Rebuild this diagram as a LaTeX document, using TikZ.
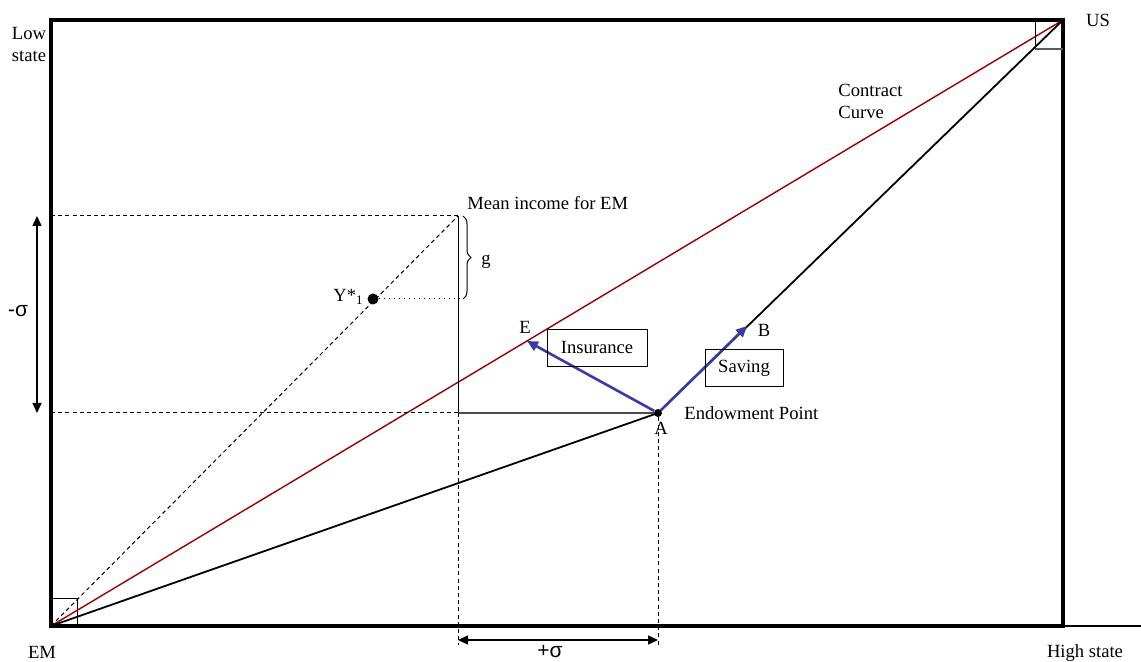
\documentclass[tikz,border=0pt]{standalone}
\usepackage{fontspec}
\setmainfont{Liberation Serif}
\newfontfamily\sigfont{Liberation Sans}
\usetikzlibrary{arrows.meta,decorations.pathreplacing}
\definecolor{ccRed}{HTML}{990000}
\definecolor{moveBlue}{HTML}{3A3AA6}
\begin{document}
\begin{tikzpicture}[x=0.5pt,y=-0.5pt,
  font=\fontsize{9.3}{11}\selectfont,
  frame/.style={line width=1.6pt},
  lnk/.style={line width=0.9pt, draw=black},
  guide/.style={line width=0.5pt, dash pattern=on 2pt off 1.6pt},
  dot/.style={circle, fill=black, inner sep=0pt, minimum size=#1},
  move/.style={-{Triangle[length=5.5pt,width=5pt]}, line width=1.3pt, draw=moveBlue},
  span/.style={{Triangle[length=5pt,width=4.5pt]}-{Triangle[length=5pt,width=4.5pt]}, line width=0.7pt},
  labelbox/.style={draw, line width=0.5pt, inner sep=2pt, minimum height=18.5pt},
  lbl/.style={inner sep=1pt}
]
\useasboundingbox (0,0) rectangle (1141,662);

% corners and points
\coordinate (EM) at (51,626);
\coordinate (US) at (1063,20);
\coordinate (HS) at (1141,626);
\coordinate (M)  at (458,216);
\coordinate (E)  at (527,341);
\coordinate (B)  at (747,326);
\node[dot=4pt] (A) at (658,413) {};
\node[dot=5.5pt] (Y) at (373,299) {};

% edgeworth box
\draw[frame] (EM) rectangle (US);
\draw[line width=1pt] (US |- EM) -- (HS);
\draw[line width=0.5pt] (EM) rectangle (77,598);
\draw[line width=0.5pt] (1035,20) -- (1035,49);
\draw[line width=0.7pt, black!65] (1035,49) -- (1063,49);

% contract curve and offer lines
\draw[line width=0.7pt, ccRed] (EM) -- (US);
\draw[lnk] (EM) -- (A.center) -- (US);
\draw[guide] (EM) -- (M);

% guides for mean income and endowment
\draw[guide] (EM |- M) -- (M);
\draw[guide] (EM |- A) -- (A);
\draw[line width=0.5pt] (M) -- (M |- A);
\draw[line width=0.6pt, black!70] (M |- A) -- (A);
\draw[dotted, line width=0.5pt] (Y) -- (463,299);
\coordinate (pL) at (458,645);
\coordinate (pR) at (658,645);
\draw[guide] (M |- A) -- (pL);
\draw[guide] (A) -- (pR);
\draw[decorate, decoration={brace, amplitude=4pt}, line width=0.5pt] (463,216) -- (463,299);

% sigma spans
\coordinate (sT) at (37,216);
\coordinate (sB) at (37,413);
\draw[span] (sT) -- (sB);
\draw[span] (458,640) -- (658,640);

% moves from endowment
\draw[move] (A) -- (E);
\draw[move] (A) -- (B);
\node[labelbox, minimum width=50pt] (ins) at (597,348) {Insurance};
\node[labelbox, minimum width=39pt] (sav) at (744,368) {Saving};

% labels
\node[lbl, align=left] at (29,45) {Low\\state};
\node[lbl] at (1098,20) {US};
\node[lbl] at (42,652) {EM};
\node[lbl] at (1085,653) {High state};
\node[lbl, align=left, anchor=west] at (836,101) {Contract\\Curve};
\node[lbl, anchor=west] at (465,203) {Mean income for EM};
\node[lbl] at (486,262) {g};
\node[lbl, anchor=east] at (366,297) {Y*\textsubscript{1}};
\node[lbl] at (525,327) {E};
\node[lbl] at (764,330) {B};
\node[lbl] at (661,428) {A};
\node[lbl, anchor=west] at (682,413) {Endowment Point};
\node[lbl, font=\sigfont\fontsize{10.5}{12}\selectfont] at (550,652) {+σ};
\node[lbl, font=\sigfont\fontsize{10.5}{12}\selectfont] at (18,311) {-σ};
\end{tikzpicture}
\end{document}
